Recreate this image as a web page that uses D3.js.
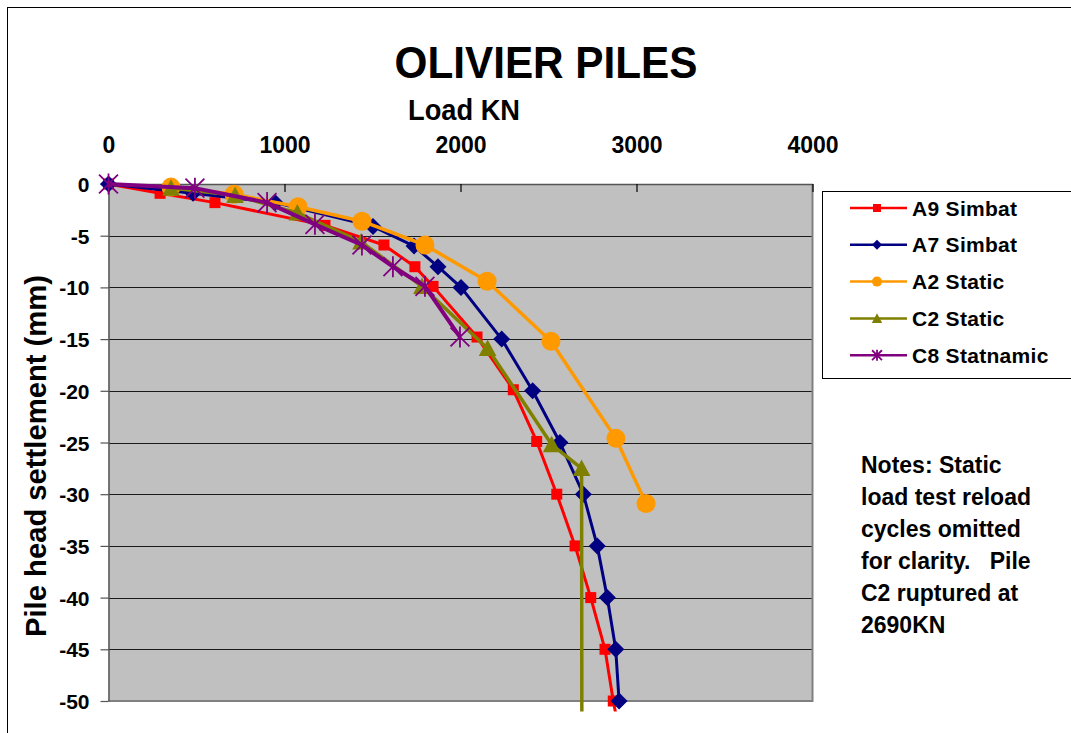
<!DOCTYPE html>
<html>
<head>
<meta charset="utf-8">
<script src="https://cdn.jsdelivr.net/npm/d3@7"></script>
<style>
  html, body { margin: 0; padding: 0; background: #fff; }
  svg { display: block; font-family: Arial, "Liberation Sans", sans-serif; font-weight: bold; }
</style>
</head>
<body>
<svg id="chart" width="1071" height="733"></svg>
<script>
// Load (kN) vs pile head settlement (mm) for the Olivier piles
const seriesNames = ["A9 Simbat", "A7 Simbat", "A2 Static", "C2 Static", "C8 Statnamic"];
const seriesColors = ["#FF0000", "#000080", "#FF9900", "#808000", "#800080"];
const seriesMarkers = ["square", "diamond", "circle", "triangle", "star"];

const a9Load   = [0, 293, 605, 1230, 1565, 1741, 1844, 2094, 2300, 2433, 2547, 2651, 2740, 2821, 2868, 2925];
const a9Settle = [0, -0.9, -1.8, -4.0, -5.9, -8.0, -9.9, -14.8, -19.9, -24.9, -30.0, -35.0, -40.0, -45.0, -50.0, -55.0];

const a7Load   = [0, 480, 946, 1503, 1736, 1872, 2003, 2234, 2410, 2565, 2698, 2777, 2834, 2882, 2901];
const a7Settle = [0, -0.9, -1.8, -4.1, -6.0, -8.0, -10.0, -15.0, -20.0, -25.0, -30.0, -35.0, -40.0, -45.0, -50.0];

const a2Load   = [355, 713, 1077, 1440, 1798, 2151, 2514, 2883, 3054];
const a2Settle = [-0.3, -1.0, -2.2, -3.6, -5.9, -9.4, -15.2, -24.6, -30.9];

// C2 ruptured at 2690 kN: the last reading falls straight down off the chart
const c2Load   = [355, 719, 1073, 1435, 1781, 2154, 2518, 2688, 2690];
const c2Settle = [-0.4, -1.1, -2.8, -5.6, -9.9, -15.9, -25.2, -27.5, -60.0];

const c8Load   = [0, 491, 901, 1173, 1440, 1616, 1798, 1997];
const c8Settle = [0, -0.4, -1.8, -3.9, -5.9, -8.0, -9.9, -14.8];

const xTicks = [0, 1000, 2000, 3000, 4000];
const yTicks = [0, -5, -10, -15, -20, -25, -30, -35, -40, -45, -50];

const noteLines = ["Notes: Static", "load test reload", "cycles omitted", "for clarity.   Pile", "C2 ruptured at", "2690KN"];

const loads = [a9Load, a7Load, a2Load, c2Load, c8Load];
const settles = [a9Settle, a7Settle, a2Settle, c2Settle, c8Settle];
const series = seriesNames.map((name, i) => ({
  name, color: seriesColors[i], marker: seriesMarkers[i],
  points: loads[i].map((l, j) => ({ load: l, settle: settles[i][j] }))
}));

const svg = d3.select("#chart");

// Plot frame
const plotLeft = 108.5, plotRight = 812.5, plotTop = 184, plotBottom = 701;
const x = d3.scaleLinear().domain([0, 4000]).range([plotLeft, plotRight]);
const y = d3.scaleLinear().domain([-50, 0]).range([plotBottom, plotTop]);

// Outer chart border
svg.append("rect").attr("x", 7.5).attr("y", 7.5).attr("width", 1200).attr("height", 900)
  .attr("fill", "#fff").attr("stroke", "#000").attr("stroke-width", 1);

// Title and axis titles
svg.append("text").attr("x", 546).attr("y", 78).attr("text-anchor", "middle")
  .attr("font-size", 45).attr("textLength", 303).attr("lengthAdjust", "spacingAndGlyphs")
  .text("OLIVIER PILES");
svg.append("text").attr("x", 464).attr("y", 120).attr("text-anchor", "middle")
  .attr("font-size", 30).attr("textLength", 112).attr("lengthAdjust", "spacingAndGlyphs")
  .text("Load KN");
svg.append("text").attr("transform", "translate(46,456) rotate(-90)").attr("text-anchor", "middle")
  .attr("font-size", 29).attr("textLength", 362).attr("lengthAdjust", "spacingAndGlyphs")
  .text("Pile head settlement (mm)");

// Plot background
svg.append("rect").attr("x", plotLeft).attr("y", plotTop)
  .attr("width", plotRight - plotLeft).attr("height", plotBottom - plotTop)
  .attr("fill", "#C0C0C0");

// Horizontal gridlines
svg.append("g").selectAll("line").data(yTicks.filter(t => t !== 0 && t !== -50)).join("line")
  .attr("x1", plotLeft).attr("x2", plotRight)
  .attr("y1", d => Math.round(y(d)) + 0.5).attr("y2", d => Math.round(y(d)) + 0.5)
  .attr("stroke", "#1a1a1a").attr("stroke-width", 1);

// Right and bottom plot border
svg.append("path")
  .attr("d", `M${plotRight},${plotTop} L${plotRight},${plotBottom} L${plotLeft},${plotBottom}`)
  .attr("fill", "none").attr("stroke", "#808080").attr("stroke-width", 2);

// X axis along the top, ticks pointing into the plot
const xAxis = d3.axisTop(x).tickValues(xTicks).tickSizeInner(-8).tickSizeOuter(0).tickPadding(0)
  .tickFormat(d => String(d));
const gx = svg.append("g").attr("transform", `translate(0,${plotTop})`).call(xAxis);
gx.select(".domain").attr("stroke", "#555").attr("stroke-width", 1.5);
gx.selectAll(".tick line").attr("stroke", "#000").attr("stroke-width", 1.2);
gx.selectAll(".tick text").attr("y", -31).attr("dy", 0)
  .attr("font-size", 23).attr("font-family", "Arial, 'Liberation Sans', sans-serif").attr("font-weight", "bold").attr("fill", "#000");

// Y axis on the left, ticks pointing outward
const yAxis = d3.axisLeft(y).tickValues(yTicks).tickSize(8).tickSizeOuter(0).tickPadding(11)
  .tickFormat(d => String(d));
const gy = svg.append("g").attr("transform", `translate(${plotLeft},0)`).call(yAxis);
gy.select(".domain").attr("stroke", "#555").attr("stroke-width", 1.5);
gy.selectAll(".tick line").attr("stroke", "#555").attr("stroke-width", 1.2);
gy.selectAll(".tick text").attr("dy", "0.36em")
  .attr("font-size", 21).attr("font-family", "Arial, 'Liberation Sans', sans-serif").attr("font-weight", "bold").attr("fill", "#000");

// Lines are clipped a little below the plot bottom
svg.append("clipPath").attr("id", "lineClip")
  .append("rect").attr("x", 0).attr("y", 0).attr("width", 1071).attr("height", 711.5);

function drawMarker(g, type, color, size) {
  const s = size;
  if (type === "square") {
    g.append("rect").attr("x", -s / 2).attr("y", -s / 2).attr("width", s).attr("height", s).attr("fill", color);
  } else if (type === "diamond") {
    g.append("path").attr("d", `M0,${-s / 2}L${s / 2},0L0,${s / 2}L${-s / 2},0Z`).attr("fill", color);
  } else if (type === "circle") {
    g.append("circle").attr("r", s / 2).attr("fill", color);
  } else if (type === "triangle") {
    g.append("path").attr("d", `M0,${-s * 0.52}L${s * 0.52},${s * 0.45}L${-s * 0.52},${s * 0.45}Z`).attr("fill", color);
  } else if (type === "star") {
    const h = s / 2;
    g.append("path")
      .attr("d", `M0,${-h}L0,${h}M${-h * 0.9},${-h * 0.9}L${h * 0.9},${h * 0.9}M${-h * 0.9},${h * 0.9}L${h * 0.9},${-h * 0.9}`)
      .attr("stroke", color).attr("stroke-width", 1.8).attr("fill", "none");
  }
}

const markerSize = { square: 11, diamond: 17, circle: 19, triangle: 17, star: 21 };
const lineWidth = { square: 3, diamond: 3, circle: 3.5, triangle: 3.5, star: 4 };

const line = d3.line().x(d => x(d.load)).y(d => y(d.settle));

series.forEach(s => {
  const g = svg.append("g");
  g.append("path").datum(s.points).attr("d", line)
    .attr("fill", "none").attr("stroke", s.color).attr("stroke-width", lineWidth[s.marker])
    .attr("stroke-linejoin", "round").attr("clip-path", "url(#lineClip)");
  s.points.filter(p => p.settle >= -50).forEach(p => {
    const m = g.append("g").attr("transform", `translate(${x(p.load)},${y(p.settle)})`);
    drawMarker(m, s.marker, s.color, markerSize[s.marker]);
  });
});

// Legend
const legend = svg.append("g");
legend.append("rect").attr("x", 822.5).attr("y", 191.5).attr("width", 400).attr("height", 187)
  .attr("fill", "#fff").attr("stroke", "#000").attr("stroke-width", 1);
const legendSize = { square: 8, diamond: 10, circle: 10, triangle: 10, star: 11 };
series.forEach((s, i) => {
  const cy = 208 + i * 36.8;
  const row = legend.append("g").attr("transform", `translate(0,${cy})`);
  row.append("line").attr("x1", 850).attr("x2", 907).attr("stroke", s.color).attr("stroke-width", 2.5);
  const m = row.append("g").attr("transform", "translate(877,0)");
  drawMarker(m, s.marker, s.color, legendSize[s.marker]);
  row.append("text").attr("x", 912).attr("y", 7.5).attr("font-size", 21).attr("letter-spacing", 0.3).text(s.name);
});

// Notes
svg.append("g").selectAll("text").data(noteLines).join("text")
  .attr("x", 861).attr("y", (d, i) => 473 + i * 32)
  .attr("font-size", 23).style("white-space", "pre")
  .text(d => d);
</script>
</body>
</html>
